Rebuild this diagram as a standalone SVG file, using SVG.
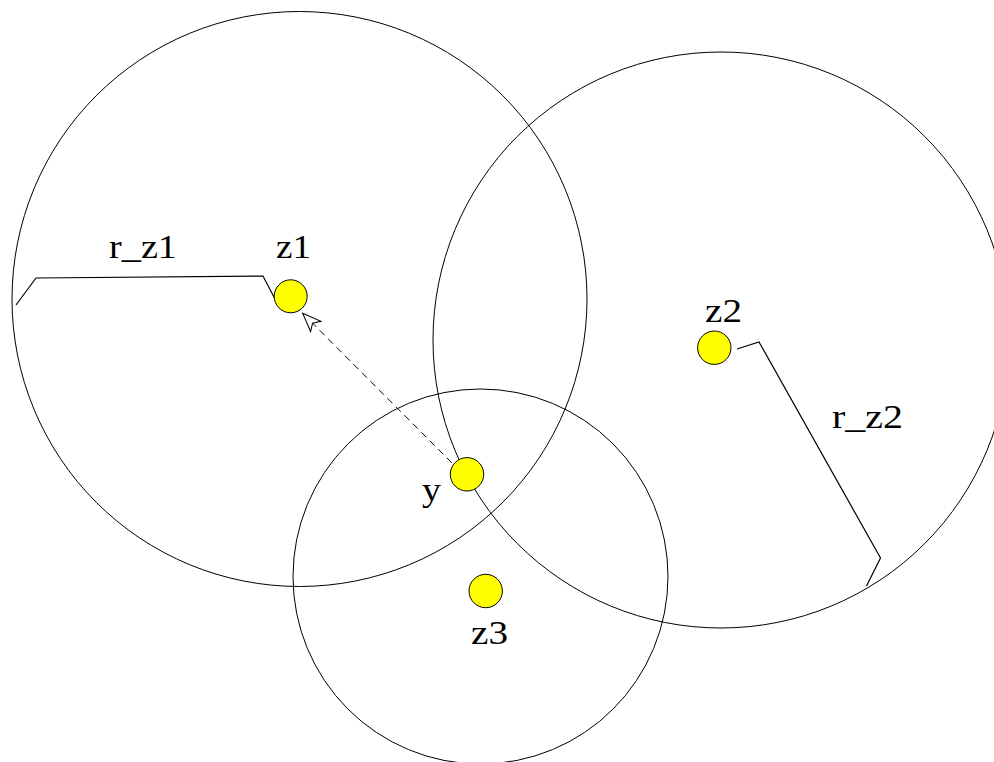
<svg xmlns="http://www.w3.org/2000/svg" width="994" height="762" viewBox="0 0 994 762">
<style>
.ring{fill:none;stroke:#000;stroke-width:1}
.node{fill:#ffff00;stroke:#000;stroke-width:1}
.lbl{font-family:"Liberation Serif","Times New Roman",serif;font-size:33px;fill:#000}
.conn{fill:none;stroke:#000;stroke-width:1.2}
.dash{fill:none;stroke:#000;stroke-width:1;stroke-dasharray:7,5}
</style>
<defs>
<marker id="ah" markerWidth="24" markerHeight="20" refX="22" refY="10" orient="auto" markerUnits="userSpaceOnUse" viewBox="0 0 24 20">
<path d="M22,10 L3.5,2.7 L8,10 L3.5,17.3 Z" fill="#fff" stroke="#000" stroke-width="1"/>
</marker>
</defs>
<rect width="994" height="762" fill="#fff"/>
<g id="ranges">
<circle class="ring" cx="299.5" cy="299" r="287.5"/>
<circle class="ring" cx="721" cy="340" r="288"/>
<circle class="ring" cx="480.5" cy="576.5" r="187.5"/>
</g>
<g id="connectors">
<path class="conn" d="M16,305 L36,278 L263,276 L275,299"/>
<path class="conn" d="M737,349 L759,342 L880.5,558 L866.5,586"/>
<path class="dash" d="M451.7,462.7 L302.7,313.3" marker-end="url(#ah)"/>
</g>
<g id="z1">
<circle class="node" cx="290.7" cy="296.3" r="16.5"/>
<text class="lbl" x="276" y="258" textLength="35" lengthAdjust="spacingAndGlyphs">z1</text>
</g>
<g id="z2">
<circle class="node" cx="714.3" cy="347.7" r="16.7"/>
<text class="lbl" x="705" y="322" textLength="37" lengthAdjust="spacingAndGlyphs">z2</text>
</g>
<g id="y">
<circle class="node" cx="467" cy="474.3" r="16.7"/>
<text class="lbl" x="422" y="501" textLength="19" lengthAdjust="spacingAndGlyphs">y</text>
</g>
<g id="z3">
<circle class="node" cx="485.7" cy="591" r="16.7"/>
<text class="lbl" x="471" y="644" textLength="37" lengthAdjust="spacingAndGlyphs">z3</text>
</g>
<g id="labels">
<text class="lbl" x="109" y="258" textLength="68" lengthAdjust="spacingAndGlyphs">r_z1</text>
<text class="lbl" x="832" y="428" textLength="71" lengthAdjust="spacingAndGlyphs">r_z2</text>
</g>
</svg>
